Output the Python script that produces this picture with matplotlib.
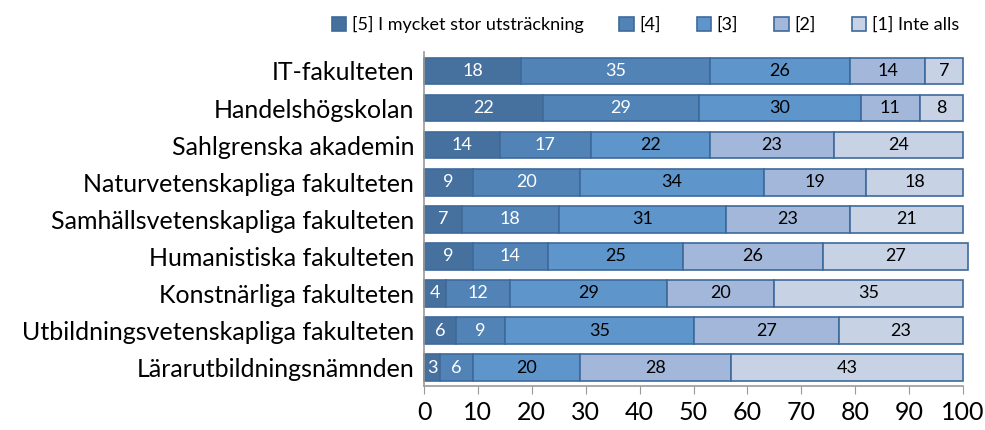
import numpy as np
import matplotlib.pyplot as plt

plt.rcParams['font.family'] = ['Lato', 'DejaVu Sans']

# categories (top to bottom)
faculties = ['IT-fakulteten', 'Handelshögskolan', 'Sahlgrenska akademin',
             'Naturvetenskapliga fakulteten', 'Samhällsvetenskapliga fakulteten',
             'Humanistiska fakulteten', 'Konstnärliga fakulteten',
             'Utbildningsvetenskapliga fakulteten', 'Lärarutbildningsnämnden']

# percentages per answer level
s5 = [18, 22, 14, 9, 7, 9, 4, 6, 3]
s4 = [35, 29, 17, 20, 18, 14, 12, 9, 6]
s3 = [26, 30, 22, 34, 31, 25, 29, 35, 20]
s2 = [14, 11, 23, 19, 23, 26, 20, 27, 28]
s1 = [7, 8, 24, 18, 21, 27, 35, 23, 43]

series = [s5, s4, s3, s2, s1]
names = ['[5] I mycket stor utsträckning', '[4]', '[3]', '[2]', '[1] Inte alls']
colors = ['#46719f', '#5283b7', '#5e95cb', '#a2b7d9', '#c7d2e5']
text_colors = ['white', 'white', 'black', 'black', 'black']

fig = plt.figure(figsize=(9.85, 4.3), dpi=100)
ax = fig.add_axes([0.4305, 0.102, 0.5472, 0.776])

y = np.arange(len(faculties))
left = np.zeros(len(faculties))
for vals, name, c, tc in zip(series, names, colors, text_colors):
    vals = np.array(vals, dtype=float)
    ax.barh(y, vals, left=left, height=0.72, color=c, edgecolor='#3e6a9b',
            linewidth=1.2, label=name, clip_on=False)
    for xi, yi, v in zip(left, y, vals):
        ax.text(xi + v / 2, yi, f'{int(v)}', ha='center', va='center',
                color=tc, fontsize=13)
    left += vals

ax.set_xlim(0, 100)
ax.set_ylim(len(faculties) - 0.5, -0.5)
ax.set_yticks(y)
ax.set_yticklabels(faculties, fontsize=18)
ax.set_xticks(np.arange(0, 101, 10))
ax.tick_params(axis='y', length=0, pad=7)
ax.tick_params(axis='x', length=6, direction='out', color='#999999', labelsize=18, pad=5)
for s in ['top', 'right']:
    ax.spines[s].set_visible(False)
ax.spines['left'].set_color('#999999')
ax.spines['bottom'].set_color('#999999')
ax.spines['left'].set_linewidth(1.2)
ax.spines['bottom'].set_linewidth(1.2)

fig.legend(loc='upper right', bbox_to_anchor=(0.99, 1.0), ncol=5, frameon=False,
           fontsize=13, handlelength=0.8, handleheight=0.8, handletextpad=0.3,
           columnspacing=2.0)

fig.savefig('out.png', dpi=100)
